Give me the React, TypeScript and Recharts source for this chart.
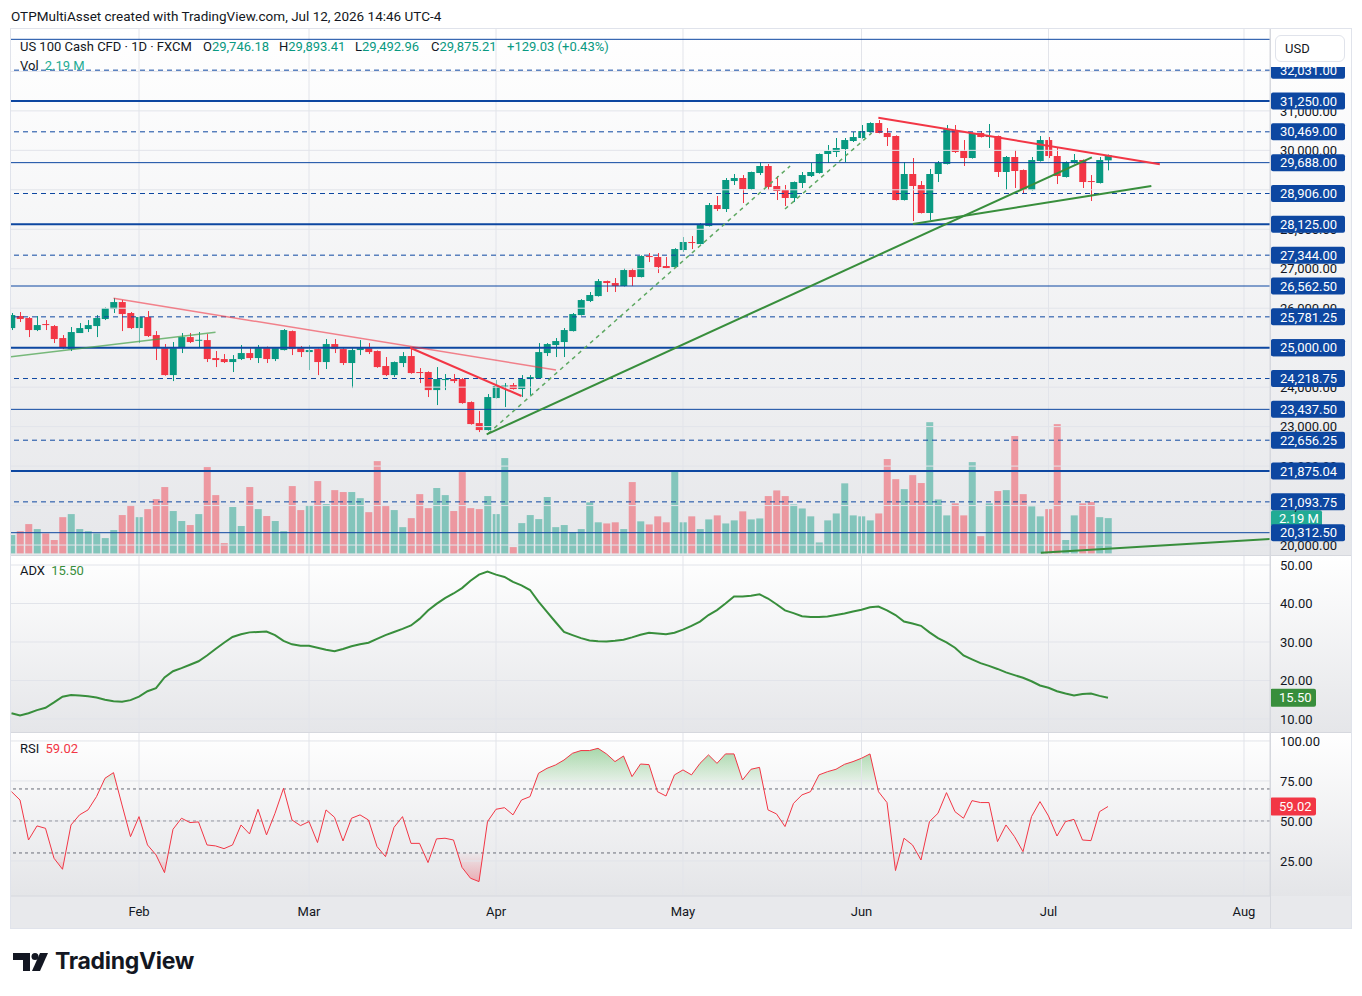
import React from 'react';
import { ComposedChart, Bar, Line, Area, XAxis, YAxis, ReferenceLine } from 'recharts';

const FONT = "Roboto, 'Liberation Sans', Arial, sans-serif";

// ---------- data ----------
const monthTickIdx = [15, 35, 57, 79, 100, 122, 145];
const monthNames = ['Feb', 'Mar', 'Apr', 'May', 'Jun', 'Jul', 'Aug'];

const opens = [
  25497, 25802, 25751, 25447, 25599, 25548, 25244, 24965, 25371, 25472,
  25548, 25726, 25979, 26156, 25878, 25497, 25776, 25320, 25016, 24306,
  24991, 25269, 25180, 25193, 24737, 24712, 24636, 24712, 24864, 24737,
  25016, 24712, 24940, 25421, 24991, 24889, 24965, 24636, 25092, 24965,
  24611, 24940, 24991, 24915, 24535, 24306, 24611, 24788, 24383, 24383,
  23926, 24180, 24205, 24205, 23622, 23090, 22913, 23724, 24015, 24053,
  23952, 24205, 24230, 24864, 25067, 25143, 25421, 25827, 26182, 26308,
  26688, 26638, 26562, 26967, 26790, 27322, 27297, 27069, 27043, 27474,
  27677, 27626, 28082, 28614, 28513, 29222, 29298, 29020, 29425, 29603,
  29096, 28994, 28792, 29172, 29349, 29425, 29907, 29957, 30033, 30236,
  30312, 30464, 30692, 30439, 30363, 28741, 29400, 29121, 28412, 29400,
  29653, 30515, 29983, 29805, 30439, 30337, 30363, 29451, 29831, 29501,
  28994, 29729, 30261, 29856, 29324, 29679, 29755, 29222, 29172, 29746.18,
];
const highs = [
  25878, 25903, 25776, 25802, 25700, 25573, 25320, 25523, 25624, 25700,
  25827, 26020, 26258, 26207, 25903, 25790, 25928, 25421, 25092, 25143,
  25371, 25371, 25396, 25345, 24915, 24839, 24813, 25067, 24991, 25067,
  25030, 25016, 25472, 25435, 25041, 25067, 24980, 25219, 25219, 25016,
  25016, 25193, 25117, 24930, 24763, 24650, 24889, 24991, 24484, 24400,
  24509, 24332, 24332, 24230, 23640, 23394, 23825, 24180, 24104, 24104,
  24306, 24306, 25117, 25117, 25244, 25497, 25878, 26230, 26410, 26739,
  26700, 26764, 27018, 27018, 27340, 27398, 27398, 27297, 27520, 27803,
  27829, 28158, 28665, 28842, 29298, 29400, 29374, 29460, 29704, 29653,
  29349, 29121, 29210, 29451, 29679, 29920, 30135, 30312, 30312, 30464,
  30641, 30710, 30768, 30565, 30380, 29704, 29805, 29222, 29527, 29729,
  30641, 30641, 30261, 30450, 30489, 30667, 30375, 29856, 30009, 29515,
  29831, 30363, 30337, 30084, 29720, 29907, 29770, 29374, 29831, 29893.41,
];
const lows = [
  25447, 25650, 25269, 25421, 25447, 25117, 24965, 24915, 25371, 25396,
  25269, 25700, 25878, 25421, 25472, 25117, 25270, 24687, 24290, 24154,
  24864, 25117, 25016, 24636, 24509, 24611, 24383, 24687, 24687, 24611,
  24611, 24661, 24930, 24813, 24763, 24433, 24306, 24459, 24864, 24560,
  23977, 24813, 24839, 24490, 24281, 24256, 24509, 24340, 24104, 23749,
  23546, 23926, 24104, 23580, 23050, 22862, 22900, 23710, 23496, 23940,
  23749, 23800, 24215, 24788, 24763, 24763, 25410, 25815, 26156, 26295,
  26410, 26410, 26550, 26562, 26780, 27170, 26891, 27005, 27030, 27423,
  27499, 27615, 28070, 28462, 28437, 29121, 28665, 28994, 29374, 28994,
  28741, 28589, 28690, 29045, 29324, 29410, 29679, 29831, 29704, 30211,
  30300, 30450, 30430, 30109, 28730, 28730, 28209, 28400, 28234, 29197,
  29640, 29932, 29603, 29790, 30325, 30059, 29324, 28994, 29045, 28918,
  28980, 29715, 29805, 29146, 29310, 29665, 29045, 28716, 29160, 29492.96,
];
const closes = [
  25827, 25726, 25447, 25573, 25573, 25219, 24991, 25396, 25497, 25573,
  25751, 26004, 26156, 25852, 25497, 25776, 25295, 25016, 24306, 25016,
  25269, 25143, 25200, 24712, 24687, 24636, 24712, 24864, 24737, 25016,
  24712, 24991, 25447, 24965, 24889, 24940, 24636, 25092, 24965, 24611,
  24940, 24991, 24889, 24509, 24306, 24636, 24788, 24357, 24357, 23926,
  24205, 24205, 24154, 23597, 23065, 22913, 23749, 24028, 24040, 23952,
  24205, 24256, 24889, 25092, 25168, 25447, 25852, 26207, 26334, 26688,
  26638, 26562, 26967, 26790, 27322, 27297, 27043, 27018, 27499, 27677,
  27651, 28107, 28614, 28513, 29248, 29298, 29020, 29451, 29603, 29070,
  28969, 28792, 29197, 29374, 29451, 29907, 29983, 30059, 30261, 30337,
  30489, 30692, 30439, 30337, 28741, 29400, 29096, 28412, 29400, 29679,
  30540, 29957, 29805, 30439, 30337, 30363, 29451, 29831, 29476, 28994,
  29755, 30261, 29856, 29349, 29704, 29755, 29197, 29197, 29755, 29875.21,
];
// volume in millions
const volumes = [
  1.14, 1.38, 1.82, 1.51, 1.24, 0.83, 2.25, 2.44, 1.51, 1.38,
  1.24, 0.95, 1.45, 2.38, 3.0, 2.25, 2.75, 3.37, 4.12, 2.63,
  2.01, 1.76, 2.44, 5.36, 3.62, 0.64, 2.88, 1.7, 4.12, 2.75,
  2.32, 2.01, 1.38, 4.18, 2.69, 3.0, 4.49, 3.06, 3.93, 3.81,
  3.81, 3.43, 2.56, 5.73, 2.94, 2.69, 1.63, 2.19, 3.68, 2.81,
  4.06, 3.62, 2.63, 5.05, 2.81, 2.75, 3.56, 2.44, 5.92, 0.39,
  1.88, 2.38, 2.13, 3.5, 1.63, 1.76, 1.32, 1.51, 3.17, 1.93,
  1.86, 1.93, 1.51, 4.43, 1.99, 1.8, 2.3, 1.93, 5.15, 1.93,
  2.3, 1.51, 2.11, 2.36, 1.86, 2.05, 2.61, 2.11, 2.17, 3.56,
  3.91, 3.56, 3.04, 2.79, 2.3, 0.68, 2.05, 2.48, 4.35, 2.36,
  2.3, 2.05, 2.48, 5.86, 4.61, 3.99, 4.86, 4.37, 8.15, 3.35,
  2.36, 3.11, 2.36, 5.67, 1.07, 3.11, 3.87, 3.93, 7.29, 3.68,
  2.92, 2.3, 2.75, 8.03, 0.83, 2.36, 3.11, 3.19, 2.25, 2.19,
];
const adxValues = [
  11.5, 10.9, 11.5, 12.3, 12.9, 14.3, 15.8, 16.2, 16.1, 15.9,
  15.6, 15.0, 14.6, 14.5, 14.9, 15.8, 17.2, 18.0, 20.8, 22.4,
  23.2, 24.1, 25.0, 26.5, 28.2, 29.8, 31.3, 32.0, 32.5, 32.6,
  32.7, 31.8, 30.3, 29.4, 29.0, 29.0, 28.5, 28.0, 27.6, 28.2,
  28.9, 29.4, 29.8, 30.8, 31.8, 32.6, 33.4, 34.3, 36.0, 38.2,
  39.9, 41.4, 42.6, 44.0, 45.9, 47.5, 48.3, 47.5, 46.9, 45.6,
  44.7, 43.5, 40.5, 37.8, 35.2, 32.6, 31.8, 31.0, 30.4, 30.2,
  30.1, 30.3, 30.6, 31.2, 31.9, 32.4, 32.2, 32.0, 32.4, 33.2,
  34.2, 35.3, 37.0, 38.3, 40.0, 41.8, 41.8, 42.0, 42.4, 41.3,
  39.8, 38.2, 37.5, 36.7, 36.5, 36.5, 36.6, 37.0, 37.4, 37.9,
  38.4, 39.0, 39.2, 38.2, 37.0, 35.3, 34.8, 34.2, 32.5, 31.0,
  29.9, 28.5, 26.5, 25.5, 24.5, 23.8, 23.0, 22.1, 21.4, 20.7,
  19.8, 18.7, 18.1, 17.2, 16.6, 16.1, 16.5, 16.6, 16.0, 15.5,
];
const rsiValues = [
  68.3, 63.1, 38.1, 46.9, 45.4, 26.7, 19.8, 47.5, 53.8, 56.9,
  65.2, 76.7, 80.2, 60.0, 40.2, 52.7, 35.0, 28.8, 17.7, 44.8,
  51.7, 49.0, 49.4, 35.0, 34.4, 32.7, 35.0, 47.5, 41.9, 57.3,
  41.3, 54.8, 70.4, 50.6, 47.1, 49.6, 36.5, 56.9, 52.3, 37.5,
  51.7, 53.8, 50.6, 34.0, 27.7, 46.0, 52.7, 36.0, 36.0, 24.0,
  38.8, 39.2, 38.1, 21.0, 14.2, 12.1, 49.6, 57.3, 58.3, 53.8,
  63.1, 65.2, 79.8, 82.9, 85.0, 88.1, 92.3, 94.0, 94.0, 95.4,
  91.9, 87.1, 90.6, 77.7, 85.6, 85.2, 68.3, 65.6, 78.8, 81.9,
  78.8, 86.0, 91.3, 86.0, 91.9, 91.9, 75.6, 82.3, 83.5, 56.9,
  54.4, 46.5, 61.0, 66.3, 68.3, 78.8, 80.8, 82.3, 85.4, 87.1,
  89.2, 91.9, 68.3, 61.5, 19.0, 39.2, 35.0, 25.6, 49.6, 54.8,
  67.7, 55.8, 51.7, 62.7, 61.5, 61.5, 37.1, 47.5, 40.2, 30.8,
  52.7, 62.1, 53.1, 40.6, 49.6, 51.0, 38.1, 37.7, 55.8, 59.02,
];

// horizontal levels drawn on the chart
const levelPrices = [32812.5, 32031, 31250, 30469, 29688, 28906, 28125, 27344, 26562.5, 25781.25, 25000, 24218.75, 23437.5, 22656.25, 21875.04, 21093.75, 20312.5];
const levelKinds = ['thin', 'dash', 'thick', 'dash', 'thin', 'dash', 'thick', 'dash', 'thin', 'dash', 'thick', 'dash', 'thin', 'dash', 'thick', 'dash', 'thin'];
const labeledLevels = levelPrices.slice(1);
const priceTicks = [20000, 21000, 22000, 23000, 24000, 25000, 26000, 27000, 28000, 29000, 30000, 31000, 32000];
const adxTicks = [10, 20, 30, 40, 50];
const rsiTicks = [25, 50, 75, 100];

// trend line drawings: [barIndex, price] endpoints
const trendStart = [[12, 26250], [46.9, 24998], [-0.06, 24770], [56.1, 22829], [91.0, 28513], [55.9, 22804], [106.05, 28133], [101.98, 30827], [121.1, 19804]];
const trendEnd = [[64.06, 24433], [60.0, 23775], [24.0, 25389], [91.6, 29603], [101.2, 30439], [127.1, 29823], [134.1, 29096], [135.1, 29646], [148.06, 20156]];
const trendStyle = ['redThin', 'red', 'greenThin', 'greenDash', 'greenDash', 'green', 'green', 'red', 'green'];

// ---------- styles ----------
const UP = '#089981';
const DOWN = '#f23645';
const LEVEL = '#0d47a1';
const GRID = '#e2e4ea';
const X_DOMAIN: [number, number] = [-0.06, 148.06];
const P_DOMAIN: [number, number] = [19747.5, 33074];
const V_DOMAIN: [number, number] = [-0.1, 32.57];
const ADX_DOMAIN: [number, number] = [6.62, 52.6];
const RSI_DOMAIN: [number, number] = [3.1, 105.6];

const data = opens.map((o, i) => ({
  i, o, h: highs[i], l: lows[i], c: closes[i], v: volumes[i], adx: adxValues[i], rsi: rsiValues[i],
}));

const lastVol = volumes[volumes.length - 1];
const lastAdx = adxValues[adxValues.length - 1];
const lastRsi = rsiValues[rsiValues.length - 1];
const rsiHi = Math.max(...rsiValues);
const rsiLo = Math.min(...rsiValues);
const off70 = (rsiHi - 70) / (rsiHi - rsiLo);
const off30 = (rsiHi - 30) / (rsiHi - rsiLo);

const fmt = (v: number) => v.toLocaleString('en-US', { minimumFractionDigits: 2, maximumFractionDigits: 2 });

const trendProps = (s: string) => {
  switch (s) {
    case 'redThin': return { stroke: DOWN, strokeWidth: 1.5, strokeOpacity: 0.6 };
    case 'red': return { stroke: DOWN, strokeWidth: 2 };
    case 'greenThin': return { stroke: '#43a047', strokeWidth: 1.5, strokeOpacity: 0.7 };
    case 'greenDash': return { stroke: '#5ea862', strokeWidth: 1.5, strokeDasharray: '4 4' };
    default: return { stroke: '#388e3c', strokeWidth: 2 };
  }
};
const levelProps = (k: string) => {
  if (k === 'thick') return { stroke: LEVEL, strokeWidth: 2 };
  if (k === 'thin') return { stroke: LEVEL, strokeWidth: 1 };
  return { stroke: LEVEL, strokeWidth: 1, strokeDasharray: '5 4' };
};

// ---------- shapes ----------
const Candle = (props: any) => {
  const { x, y, width, height, payload } = props;
  if (x == null || y == null) return null;
  const { o, h, l, c } = payload;
  const top = Math.min(y, y + height);
  const hh = Math.abs(height);
  const k = h - l > 0 ? hh / (h - l) : 0;
  const yO = top + (h - o) * k;
  const yC = top + (h - c) * k;
  const color = c >= o ? UP : DOWN;
  const cx = Math.round(x + width / 2) + 0.5;
  return (
    <g>
      <line x1={cx} x2={cx} y1={top} y2={top + hh} stroke={color} strokeWidth={1} />
      <rect x={x} y={Math.min(yO, yC)} width={width} height={Math.max(1, Math.abs(yO - yC))} fill={color} />
    </g>
  );
};

const VolBar = (props: any) => {
  const { x, y, width, height, payload } = props;
  if (x == null || y == null) return null;
  const up = payload.c >= payload.o;
  return <rect x={x} y={Math.min(y, y + height)} width={width} height={Math.abs(height)} fill={up ? UP : DOWN} fillOpacity={0.45} />;
};

const PriceTick = (props: any) => {
  const { x, y, payload } = props;
  const v = payload.value;
  if (labeledLevels.indexOf(v) >= 0) {
    return (
      <g>
        <rect x={x + 1} y={y - 8.5} width={74} height={17} rx={2} fill={LEVEL} />
        <text x={x + 10} y={y} dy="0.36em" fill="#ffffff" fontSize={13} fontFamily={FONT}>{fmt(v)}</text>
      </g>
    );
  }
  return <text x={x + 10} y={y} dy="0.36em" fill="#131722" fontSize={13} fontFamily={FONT}>{fmt(v)}</text>;
};

const makeValueTick = (last: number, color: string) => (props: any) => {
  const { x, y, payload } = props;
  const v = payload.value;
  if (v === last) {
    return (
      <g>
        <rect x={x} y={y - 9} width={46} height={18} rx={2} fill={color} />
        <text x={x + 9} y={y} dy="0.36em" fill="#ffffff" fontSize={13} fontFamily={FONT}>{fmt(v)}</text>
      </g>
    );
  }
  return <text x={x + 10} y={y} dy="0.36em" fill="#131722" fontSize={13} fontFamily={FONT}>{fmt(v)}</text>;
};
const AdxTick = makeValueTick(lastAdx, '#388e3c');
const RsiTick = makeValueTick(lastRsi, DOWN);

const MonthTick = (props: any) => {
  const { x, y, payload } = props;
  const name = monthNames[monthTickIdx.indexOf(payload.value)];
  return <text x={x} y={y} dy={20} textAnchor="middle" fill="#131722" fontSize={13} fontFamily={FONT}>{name}</text>;
};

const VolLabel = (props: any) => {
  const vb = props.viewBox || {};
  const x = vb.x + vb.width;
  const y = vb.y;
  return (
    <g>
      <rect x={x + 1} y={y - 8} width={51} height={16} rx={2} fill="#22ab94" />
      <text x={x + 9} y={y} dy="0.36em" fill="#ffffff" fontSize={13} fontFamily={FONT}>{`${lastVol} M`}</text>
    </g>
  );
};

const paneBg = (from: string, to: string) => `linear-gradient(to bottom, ${from}, ${to})`;

export default function App() {
  const abs = (l: number, t: number, w: number, h: number, extra: any = {}) => ({ position: 'absolute' as const, left: l, top: t, width: w, height: h, ...extra });
  return (
    <div style={{ position: 'absolute', left: 0, top: 0, width: 1362, height: 996, background: '#ffffff', fontFamily: FONT, color: '#131722', overflow: 'hidden' }}>
      <div style={{ position: 'absolute', left: 11, top: 8, fontSize: 13.5, whiteSpace: 'nowrap' }}>
        OTPMultiAsset created with TradingView.com, Jul 12, 2026 14:46 UTC-4
      </div>

      {/* pane backgrounds */}
      <div style={abs(11, 29, 1340, 526, { background: paneBg('#ffffff', '#e6e7ea') })} />
      <div style={abs(11, 555, 1340, 177, { background: paneBg('#ffffff', '#e5e6e9') })} />
      <div style={abs(11, 732, 1340, 164, { background: paneBg('#ffffff', '#e4e5e8') })} />
      <div style={abs(11, 896, 1340, 32, { background: '#e8e9ec' })} />

      {/* price pane */}
      <div style={abs(11, 29, 1340, 526)}>
        <ComposedChart width={1340} height={526} data={data} margin={{ top: 0, right: 0, bottom: 0, left: 0 }}>
          <XAxis xAxisId="p" type="number" dataKey="i" domain={X_DOMAIN} allowDataOverflow hide />
          <XAxis xAxisId="v" type="number" dataKey="i" domain={X_DOMAIN} allowDataOverflow hide />
          <YAxis yAxisId="v" domain={V_DOMAIN} allowDataOverflow hide />
          <YAxis yAxisId="p" orientation="right" width={81} domain={P_DOMAIN} allowDataOverflow
            ticks={[...priceTicks, ...labeledLevels]} interval={0} tick={PriceTick}
            tickLine={false} tickSize={0} tickMargin={0} axisLine={{ stroke: '#d6d8de' }} />
          {monthTickIdx.map((m) => (
            <ReferenceLine key={'mv' + m} xAxisId="p" yAxisId="p" x={m} stroke={GRID} />
          ))}
          {priceTicks.map((t) => (
            <ReferenceLine key={'pg' + t} xAxisId="p" yAxisId="p" y={t} stroke={GRID} />
          ))}
          <Bar xAxisId="v" yAxisId="v" dataKey="v" barSize={7} shape={VolBar} isAnimationActive={false} />
          <Bar xAxisId="p" yAxisId="p" dataKey={(d: any) => [d.l, d.h]} barSize={7} shape={Candle} isAnimationActive={false} />
          {levelPrices.map((p, k) => (
            <ReferenceLine key={'lv' + k} xAxisId="p" yAxisId="p" y={p} {...levelProps(levelKinds[k])} />
          ))}
          {trendStart.map((s, k) => (
            <ReferenceLine key={'tr' + k} xAxisId="p" yAxisId="p" ifOverflow="hidden"
              segment={[{ x: s[0], y: s[1] }, { x: trendEnd[k][0], y: trendEnd[k][1] }]}
              {...trendProps(trendStyle[k])} />
          ))}
          <ReferenceLine xAxisId="v" yAxisId="v" y={lastVol} stroke="none" ifOverflow="visible" label={VolLabel} />
        </ComposedChart>
      </div>

      {/* ADX pane */}
      <div style={abs(11, 555, 1340, 177)}>
        <ComposedChart width={1340} height={177} data={data} margin={{ top: 0, right: 0, bottom: 0, left: 0 }}>
          <XAxis xAxisId="a" type="number" dataKey="i" domain={X_DOMAIN} allowDataOverflow hide />
          <YAxis yAxisId="a" orientation="right" width={81} domain={ADX_DOMAIN} allowDataOverflow
            ticks={[...adxTicks, lastAdx]} interval={0} tick={AdxTick}
            tickLine={false} tickSize={0} tickMargin={0} axisLine={{ stroke: '#d6d8de' }} />
          {monthTickIdx.map((m) => (
            <ReferenceLine key={'amv' + m} xAxisId="a" yAxisId="a" x={m} stroke={GRID} />
          ))}
          {adxTicks.map((t) => (
            <ReferenceLine key={'ag' + t} xAxisId="a" yAxisId="a" y={t} stroke={GRID} />
          ))}
          <Line xAxisId="a" yAxisId="a" type="linear" dataKey="adx" stroke="#388e3c" strokeWidth={2} dot={false} isAnimationActive={false} />
        </ComposedChart>
      </div>

      {/* RSI pane */}
      <div style={abs(11, 732, 1340, 195)}>
        <ComposedChart width={1340} height={195} data={data} margin={{ top: 0, right: 0, bottom: 0, left: 0 }}>
          <defs>
            <linearGradient id="rsiFill" x1="0" y1="0" x2="0" y2="1">
              <stop offset={0} stopColor="#4caf50" stopOpacity={0.8} />
              <stop offset={off70} stopColor="#4caf50" stopOpacity={0.03} />
              <stop offset={off70} stopColor="#4caf50" stopOpacity={0} />
              <stop offset={off30} stopColor={DOWN} stopOpacity={0} />
              <stop offset={off30} stopColor={DOWN} stopOpacity={0.03} />
              <stop offset={1} stopColor={DOWN} stopOpacity={0.55} />
            </linearGradient>
          </defs>
          <XAxis xAxisId="r" type="number" dataKey="i" domain={X_DOMAIN} allowDataOverflow
            ticks={monthTickIdx} interval={0} height={31}
            tickLine={false} tickSize={0} tickMargin={0} axisLine={{ stroke: '#d6d8de' }}
            tick={MonthTick} />
          <YAxis yAxisId="r" orientation="right" width={81} domain={RSI_DOMAIN} allowDataOverflow
            ticks={[...rsiTicks, lastRsi]} interval={0} tick={RsiTick}
            tickLine={false} tickSize={0} tickMargin={0} axisLine={{ stroke: '#d6d8de' }} />
          {monthTickIdx.map((m) => (
            <ReferenceLine key={'rmv' + m} xAxisId="r" yAxisId="r" x={m} stroke={GRID} />
          ))}
          {rsiTicks.map((t) => (
            <ReferenceLine key={'rg' + t} xAxisId="r" yAxisId="r" y={t} stroke={GRID} />
          ))}
          <ReferenceLine xAxisId="r" yAxisId="r" y={70} stroke="#6a6d78" strokeDasharray="3 3" />
          <ReferenceLine xAxisId="r" yAxisId="r" y={50} stroke="#9598a1" strokeDasharray="3 3" />
          <ReferenceLine xAxisId="r" yAxisId="r" y={30} stroke="#6a6d78" strokeDasharray="3 3" />
          <Area xAxisId="r" yAxisId="r" type="linear" dataKey="rsi" baseValue={50} stroke="none" fill="url(#rsiFill)" isAnimationActive={false} />
          <Line xAxisId="r" yAxisId="r" type="linear" dataKey="rsi" stroke={DOWN} strokeWidth={1} dot={false} isAnimationActive={false} />
        </ComposedChart>
      </div>

      {/* separators and frame */}
      <div style={abs(11, 554.5, 1340, 1, { background: '#d6d8de' })} />
      <div style={abs(11, 731.5, 1340, 1, { background: '#d6d8de' })} />
      <div style={abs(1270, 29, 1, 899, { background: '#d6d8de' })} />
      <div style={abs(10, 28, 1342, 901, { border: '1px solid #e0e3eb', boxSizing: 'border-box' })} />

      {/* currency box */}
      <div style={abs(1271, 29, 80, 38, { background: '#ffffff' })} />
      <div style={abs(1275, 35, 70, 27, { background: '#ffffff', border: '1px solid #e0e3eb', borderRadius: 6, boxSizing: 'border-box', fontSize: 13, lineHeight: '25px', paddingLeft: 9 })}>USD</div>

      {/* legends */}
      <div style={{ position: 'absolute', left: 20, top: 39, fontSize: 13, whiteSpace: 'nowrap' }}>US 100 Cash CFD · 1D · FXCM</div>
      <div style={{ position: 'absolute', left: 203, top: 39, fontSize: 13, whiteSpace: 'nowrap' }}>O<span style={{ color: UP }}>29,746.18</span></div>
      <div style={{ position: 'absolute', left: 279, top: 39, fontSize: 13, whiteSpace: 'nowrap' }}>H<span style={{ color: UP }}>29,893.41</span></div>
      <div style={{ position: 'absolute', left: 355, top: 39, fontSize: 13, whiteSpace: 'nowrap' }}>L<span style={{ color: UP }}>29,492.96</span></div>
      <div style={{ position: 'absolute', left: 431, top: 39, fontSize: 13, whiteSpace: 'nowrap' }}>C<span style={{ color: UP }}>29,875.21</span></div>
      <div style={{ position: 'absolute', left: 507, top: 39, fontSize: 13, whiteSpace: 'nowrap', color: UP }}>+129.03 (+0.43%)</div>
      <div style={{ position: 'absolute', left: 20, top: 58, fontSize: 13, whiteSpace: 'nowrap' }}>Vol <span style={{ color: '#22ab94', marginLeft: 3 }}>2.19 M</span></div>
      <div style={{ position: 'absolute', left: 20, top: 563, fontSize: 13, whiteSpace: 'nowrap' }}>ADX <span style={{ color: '#388e3c', marginLeft: 3 }}>15.50</span></div>
      <div style={{ position: 'absolute', left: 20, top: 741, fontSize: 13, whiteSpace: 'nowrap' }}>RSI <span style={{ color: DOWN, marginLeft: 3 }}>59.02</span></div>

      {/* TradingView logo */}
      <svg style={{ position: 'absolute', left: 12, top: 950 }} width={40} height={24}>
        <path d="M1 3 H18 V21 H11 V10 H1 Z" fill="#131722" />
        <circle cx={23} cy={6.5} r={3.5} fill="#131722" />
        <path d="M28 3 H36 L28 21 H20 Z" fill="#131722" />
      </svg>
      <div style={{ position: 'absolute', left: 55, top: 947, fontSize: 23, fontWeight: 700, fontFamily: "Inter, 'Open Sans', sans-serif", color: '#131722', letterSpacing: -0.3 }}>TradingView</div>
    </div>
  );
}
